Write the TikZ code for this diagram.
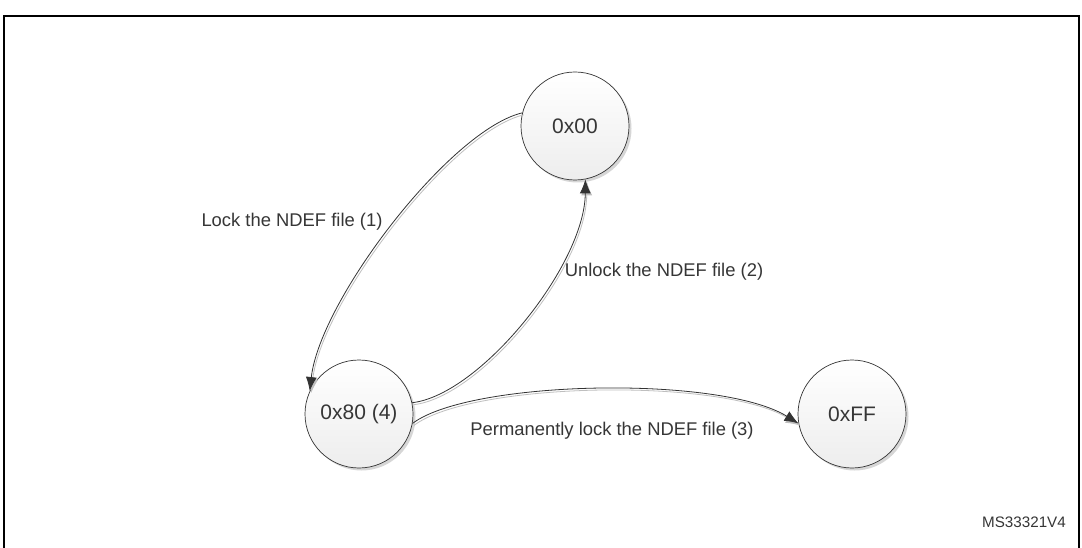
\documentclass[tikz,border=0pt]{standalone}
\usepackage{fontspec}
\setmainfont{Liberation Sans}
\usetikzlibrary{arrows.meta,shadows}
\definecolor{txt}{HTML}{363636}
\definecolor{edgec}{HTML}{333333}
\begin{document}
\begin{tikzpicture}[x=1pt,y=-1pt,
  state/.style={circle, draw=edgec, line width=0.7pt, minimum size=108pt, inner sep=0pt,
    top color=white, bottom color=black!7, text=txt,
    font=\fontsize{21}{25}\selectfont,
    drop shadow={shadow xshift=2.5pt, shadow yshift=-2.5pt, fill=black!16, opacity=1}},
  conn/.style={draw=edgec, line width=0.8pt, -{Latex[length=14pt,width=11pt]},
    preaction={draw=black!25, line width=0.8pt, -{Latex[length=14pt,width=11pt]},
      transform canvas={shift={(1.4pt,-2pt)}}}},
  lbl/.style={inner sep=0pt, text=txt, font=\fontsize{18.4}{22}\selectfont}]
\useasboundingbox (0,0) rectangle (1082,548);
\fill[white] (0,0) rectangle (1082,548);
\draw[line width=2pt, black] (4,548) -- (4,16) -- (1079,16) -- (1079,548);

\node[state] (n00) at (575,126) {0x00};
\node[state] (n80) at (359,414) {0x80 (4)};
\node[state] (nFF) at (852,414) {0xFF};

\draw[conn] (n00.166) .. controls (450,130) and (320,300) .. (n80.155);
\draw[conn] (n80.12) .. controls (480,395) and (585,265) .. (n00.281);
\draw[conn] (n80.-10) .. controls (470,380) and (720,375) .. (nFF.190);

\node[lbl] (l1) at (292,222) {Lock the NDEF file (1)};
\node[lbl] (l2) at (664,272) {Unlock the NDEF file (2)};
\node[lbl] (l3) at (612,431) {Permanently lock the NDEF file (3)};
\node[lbl, font=\fontsize{15.2}{18}\selectfont] (id) at (1024,522) {MS33321V4};
\end{tikzpicture}
\end{document}
